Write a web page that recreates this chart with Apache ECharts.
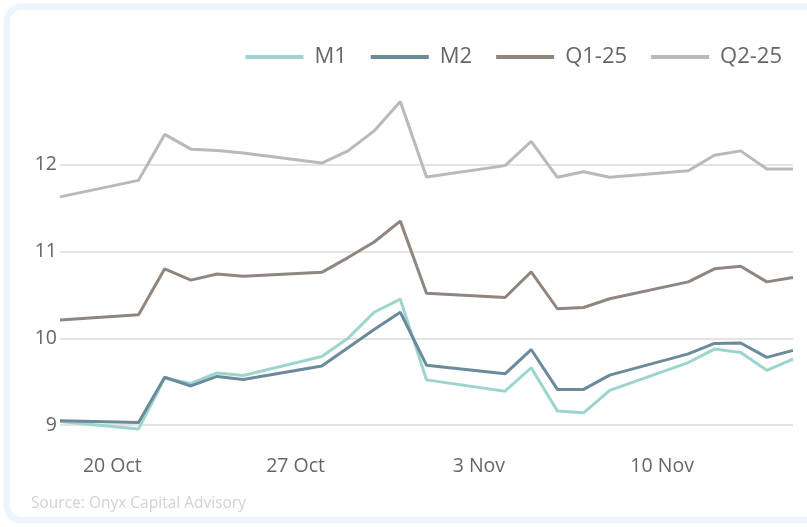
<!DOCTYPE html>
<html>
<head>
<meta charset="utf-8">
<script src="https://cdn.jsdelivr.net/npm/echarts@6/dist/echarts.min.js"></script>
<style>
html,body{margin:0;padding:0;background:#fff;}
#chart{width:807px;height:527px;}
</style>
</head>
<body>
<div id="chart"></div>
<script>
const dates = ['2024-10-18','2024-10-21','2024-10-22','2024-10-23','2024-10-24','2024-10-25',
  '2024-10-28','2024-10-29','2024-10-30','2024-10-31','2024-11-01',
  '2024-11-04','2024-11-05','2024-11-06','2024-11-07','2024-11-08',
  '2024-11-11','2024-11-12','2024-11-13','2024-11-14','2024-11-15'];
const seriesNames = ['M1','M2','Q1-25','Q2-25'];
const m1 = [9.04, 8.955, 9.54, 9.48, 9.60, 9.57, 9.79, 10.0, 10.30, 10.45, 9.52, 9.39, 9.66, 9.16, 9.14, 9.40, 9.72, 9.875, 9.835, 9.63, 9.76];
const m2 = [9.05, 9.03, 9.55, 9.45, 9.56, 9.525, 9.68, 9.89, 10.10, 10.30, 9.69, 9.59, 9.87, 9.41, 9.41, 9.575, 9.82, 9.94, 9.945, 9.78, 9.86];
const q1 = [10.21, 10.27, 10.80, 10.67, 10.74, 10.715, 10.76, 10.93, 11.11, 11.35, 10.52, 10.47, 10.765, 10.34, 10.355, 10.455, 10.65, 10.80, 10.83, 10.65, 10.70];
const q2 = [11.63, 11.82, 12.35, 12.18, 12.165, 12.135, 12.02, 12.16, 12.39, 12.73, 11.86, 11.99, 12.27, 11.855, 11.92, 11.855, 11.93, 12.11, 12.16, 11.95, 11.95];
const xTickLabels = ['2024-10-20','2024-10-27','2024-11-03','2024-11-10'];
const xMin = '2024-10-18', xMax = '2024-11-15';
const yTicks = [9, 10, 11, 12];
const colors = ['#9dd5cd', '#6b8a9c', '#8f8680', '#b9b9b9'];
const source = 'Source: Onyx Capital Advisory';

const MONTHS = ['Jan','Feb','Mar','Apr','May','Jun','Jul','Aug','Sep','Oct','Nov','Dec'];
function ts(s){ const p = s.split('-').map(Number); return Date.UTC(p[0], p[1]-1, p[2]); }
function pairs(vals){ return dates.map((d,i)=>[ts(d), vals[i]]); }
const allVals = [m1, m2, q1, q2];
const FONT = '"Open Sans", "Noto Sans", sans-serif';

const chart = echarts.init(document.getElementById('chart'), null, {renderer:'canvas'});
chart.setOption({
  animation: false,
  backgroundColor: '#ffffff',
  graphic: [
    {type:'rect', z:-10, silent:true,
     shape:{x:6.75, y:6.75, width:840, height:513.5, r:15},
     style:{fill:'#ffffff', stroke:'#eef4fd', lineWidth:6.5}},
    {type:'text', left:31, top:496, silent:true,
     style:{text:source, fill:'#d2d2d2', font:'15.5px ' + FONT}}
  ],
  legend: {
    right: 20, top: 41,
    itemWidth: 58, itemHeight: 4, itemGap: 24,
    icon: 'rect',
    textStyle: {color:'#666666', fontSize:22, fontFamily:FONT, padding:[0,0,0,6]},
    data: seriesNames
  },
  grid: {left:60, right:14, top:78, bottom:102, containLabel:false},
  xAxis: {
    type:'value',
    min: ts(xMin), max: ts(xMax),
    axisLine:{show:false}, axisTick:{show:false}, splitLine:{show:false},
    axisLabel:{
      customValues: xTickLabels.map(ts),
      margin: 31,
      color:'#666666', fontSize:19.5, fontFamily:FONT,
      formatter: v => { const d = new Date(v); return d.getUTCDate() + ' ' + MONTHS[d.getUTCMonth()]; }
    }
  },
  yAxis: {
    type:'value', min: 9, max: 13, interval: 1,
    axisLine:{show:false}, axisTick:{show:false},
    splitLine:{show:true, showMaxLine:false, lineStyle:{color:'#e4e4e4', width:2}},
    axisLabel:{
      showMaxLabel:false, margin:3,
      color:'#666666', fontSize:19.5, fontFamily:FONT,
      formatter: v => yTicks.includes(v) ? String(v) : ''
    }
  },
  series: seriesNames.map((n,i)=>({
    name:n, type:'line', data: pairs(allVals[i]),
    showSymbol:false, symbol:'none', clip:false,
    color: colors[i],
    lineStyle:{width:3, color:colors[i]},
    itemStyle:{color:colors[i]}
  }))
});
</script>
</body>
</html>
